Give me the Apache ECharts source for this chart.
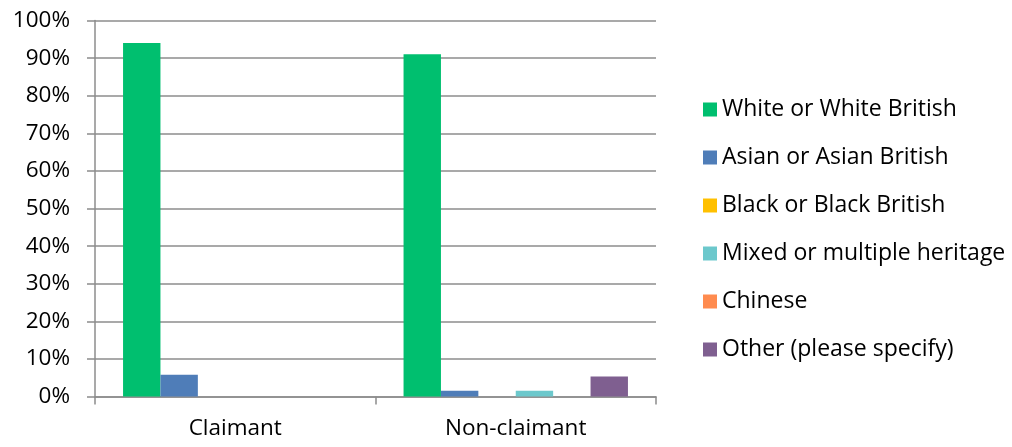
<!DOCTYPE html>
<html><head><meta charset="utf-8">
<script src="https://cdn.jsdelivr.net/npm/echarts@6/dist/echarts.min.js"></script>
<style>html,body{margin:0;padding:0;background:#fff}#c{width:1012px;height:447px}</style>
</head><body><div id="c"></div>
<script>
const categories = ['Claimant', 'Non-claimant'];
const seriesNames = ['White or White British','Asian or Asian British','Black or Black British','Mixed or multiple heritage','Chinese','Other (please specify)'];
const white = [94, 91];
const asian = [5.8, 1.5];
const black = [0, 0];
const mixed = [0, 1.5];
const chinese = [0, 0];
const other = [0, 5.3];
const colors = ['#00BF6F','#4F7DB8','#FFC000','#6CC8CC','#FF8B4F','#7F5F90'];
const seriesData = [white, asian, black, mixed, chinese, other];
const font = '"Open Sans", "Liberation Sans", sans-serif';
const chart = echarts.init(document.getElementById('c'));
chart.setOption({
  animation: false,
  grid: {left: 95, right: 356, top: 20.5, bottom: 50.5},
  legend: {
    orient: 'vertical', left: 698, top: 93,
    itemWidth: 14, itemHeight: 14, itemGap: 25,
    icon: 'rect',
    textStyle: {fontFamily: font, fontSize: 23, color: '#000', padding: [0,0,0,0]},
    data: seriesNames
  },
  xAxis: {
    type: 'category', data: categories,
    axisLine: {lineStyle: {color: '#8c8c8c', width: 1.5}},
    axisTick: {show: true, length: 8, lineStyle: {color: '#8c8c8c', width: 1.5}},
    axisLabel: {fontFamily: font, fontSize: 22.5, color: '#000', margin: 21}
  },
  yAxis: {
    type: 'value', min: 0, max: 100, interval: 10,
    axisLine: {show: true, lineStyle: {color: '#8c8c8c', width: 1.5}},
    axisTick: {show: true, length: 8, lineStyle: {color: '#8c8c8c', width: 1.5}},
    splitLine: {lineStyle: {color: '#8c8c8c', width: 1.5}},
    axisLabel: {formatter: '{value}%', fontFamily: font, fontSize: 22.5, color: '#000', margin: 25}
  },
  series: seriesNames.map((n, i) => ({
    name: n, type: 'bar', data: seriesData[i],
    itemStyle: {color: colors[i]},
    barGap: '0%', barCategoryGap: '20%'
  }))
});
</script></body></html>
